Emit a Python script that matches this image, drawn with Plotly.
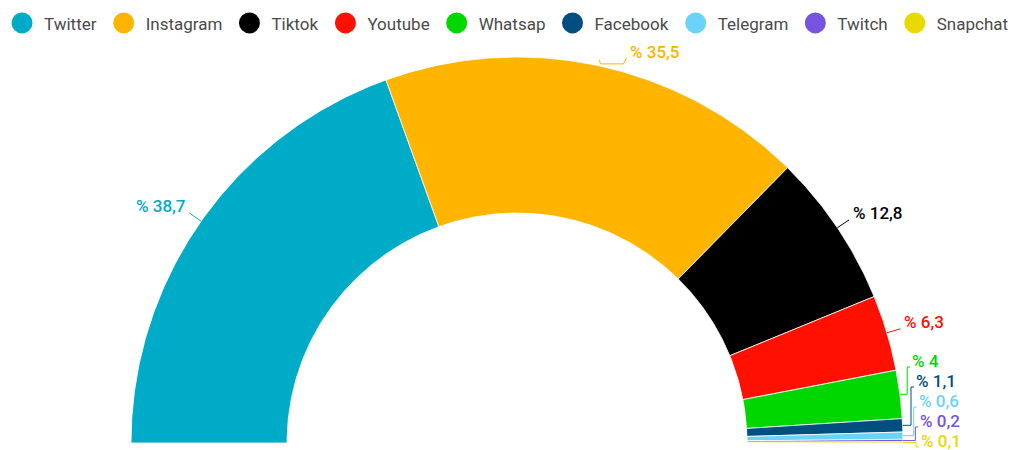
import numpy as np
import plotly.graph_objects as go

# ---- data ----
categories = ["Twitter", "Instagram", "Tiktok", "Youtube", "Whatsap",
              "Facebook", "Telegram", "Twitch", "Snapchat"]
values = [38.7, 35.5, 12.8, 6.3, 4, 1.1, 0.6, 0.2, 0.1]
colors = ["#00ABC7", "#FFB500", "#000000", "#FF1000", "#00D600",
          "#004F7F", "#6BD3F8", "#7654DF", "#E8D900"]

# ---- layout constants (pixels) ----
W, H = 1016, 450
CX, CY = 517, 443
R_OUT, R_IN = 386, 230
FONT = "Roboto"


def fmt(v):
    s = ("%g" % v).replace(".", ",")
    return "% " + s


total = float(sum(values))
cum = np.concatenate([[0.0], np.cumsum(values)])


def ang(v):
    return np.pi * (1 - v / total)


fig = go.Figure()

# slices
for i, (cat, c) in enumerate(zip(categories, colors)):
    a0, a1 = ang(cum[i]), ang(cum[i + 1])
    n = max(3, int(abs(a0 - a1) / np.radians(0.4)) + 2)
    t = np.linspace(a0, a1, n)
    xs = np.concatenate([CX + R_OUT * np.cos(t), CX + R_IN * np.cos(t[::-1])])
    ys = np.concatenate([CY - R_OUT * np.sin(t), CY - R_IN * np.sin(t[::-1])])
    xs = np.append(xs, xs[0])
    ys = np.append(ys, ys[0])
    fig.add_trace(go.Scatter(x=xs, y=ys, mode="lines", fill="toself",
                             fillcolor=c, line=dict(color="white", width=0.8),
                             showlegend=False, hoverinfo="skip"))

# label natural positions
mids = [ang((cum[i] + cum[i + 1]) / 2) for i in range(len(values))]
P = [(CX + R_OUT * np.cos(m), CY - R_OUT * np.sin(m)) for m in mids]
E = [(CX + (R_OUT + 14) * np.cos(m), CY - (R_OUT + 14) * np.sin(m)) for m in mids]
nat = [e[1] - 7 for e in E]

TOP, BOTTOM, GAP = 52, 441, 20


def resolve(idx):
    idx = sorted(idx, key=lambda k: nat[k])
    groups = [{"m": [k], "s": nat[k]} for k in idx]
    while True:
        for g in groups:
            size = (len(g["m"]) - 1) * GAP
            g["s"] = min(max(g["s"], TOP), BOTTOM - size)
        merged = False
        for k in range(len(groups) - 1):
            a, b = groups[k], groups[k + 1]
            end_a = a["s"] + (len(a["m"]) - 1) * GAP
            if b["s"] - end_a < GAP - 1e-6:
                mem = a["m"] + b["m"]
                s = np.mean([nat[m] - j * GAP for j, m in enumerate(mem)])
                groups[k] = {"m": mem, "s": s}
                del groups[k + 1]
                merged = True
                break
        if not merged:
            break
    pos = {}
    for g in groups:
        for j, m in enumerate(g["m"]):
            pos[m] = g["s"] + j * GAP
    return pos


right = [i for i, m in enumerate(mids) if np.cos(m) >= 0]
left = [i for i, m in enumerate(mids) if np.cos(m) < 0]
ly = {}
ly.update(resolve(right))
ly.update(resolve(left))

for i in range(len(values)):
    px, py = P[i]
    ex, ey = E[i]
    y = ly[i]
    is_right = np.cos(mids[i]) >= 0
    if abs(y - nat[i]) < 1:
        pts = [(px, py), (ex, ey)]
        tx = ex + 2 if is_right else ex - 2
    elif py < CY / 2:
        pts = [(px, py - 6), (px + 1, py - 2), (px + 24, py - 2), (px + 27, y + 6)]
        tx = px + 29
    else:
        dy = CY - y
        vx = CX + np.sqrt(max(R_OUT ** 2 - dy ** 2, 0)) + 13
        pts = [(px, py), (vx, py), (vx, y + 6), (vx + 3, y + 6)]
        tx = vx + 3
    fig.add_trace(go.Scatter(x=[p[0] for p in pts], y=[p[1] for p in pts],
                             mode="lines", line=dict(color=colors[i], width=1),
                             showlegend=False, hoverinfo="skip"))
    fig.add_annotation(x=tx, y=y, xref="x", yref="y", text=fmt(values[i]),
                       showarrow=False, xanchor="left" if is_right else "right",
                       yanchor="middle",
                       font=dict(family=FONT, size=17, color=colors[i], weight=500))

# legend entries
for cat, c in zip(categories, colors):
    fig.add_trace(go.Scatter(x=[None], y=[None], mode="markers", name=cat,
                             marker=dict(size=16, color=c, symbol="circle",
                                         line=dict(color=c, width=5))))

fig.update_layout(
    width=W, height=H,
    margin=dict(l=0, r=0, t=0, b=0),
    paper_bgcolor="white", plot_bgcolor="white",
    xaxis=dict(range=[0, W], visible=False, fixedrange=True),
    yaxis=dict(range=[H, 0], visible=False, fixedrange=True),
    legend=dict(orientation="h", x=0, y=0.988, xanchor="left", yanchor="top",
                itemwidth=34,
                font=dict(family=FONT, size=17, color="#4a4a4a"),
                bgcolor="rgba(0,0,0,0)", itemclick=False, itemdoubleclick=False),
    showlegend=True,
)

fig.write_html("out.html")
